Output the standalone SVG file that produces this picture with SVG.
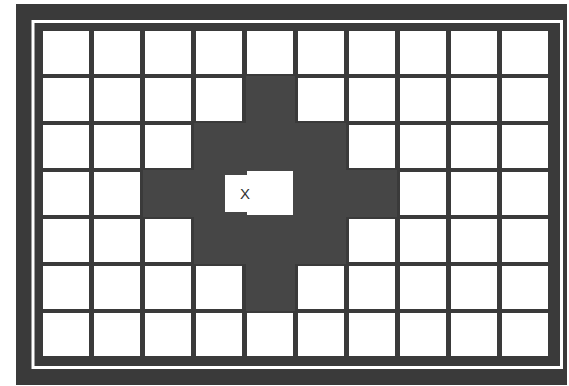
<svg xmlns="http://www.w3.org/2000/svg" width="569" height="386" viewBox="0 0 569 386">
<style>
.c{fill:#ffffff}
.frame{fill:#3a3a3a}
.line{fill:none;stroke:#ffffff;stroke-width:3}
.zone{fill:#464646}
.lbl{font-family:"Liberation Sans",Arial,sans-serif;font-size:15px;fill:#333333}
</style>
<rect width="569" height="386" fill="#ffffff"/>
<g id="frame">
<rect class="frame" x="16" y="4" width="551" height="381"/>
<rect class="line" x="33" y="21.5" width="528.5" height="346"/>
</g>
<g id="cells">
<!-- row 0 -->
<rect class="c" x="43" y="31" width="46" height="43"/><rect class="c" x="94" y="31" width="46" height="43"/><rect class="c" x="145" y="31" width="46" height="43"/><rect class="c" x="196" y="31" width="46" height="43"/><rect class="c" x="247" y="31" width="46" height="43"/><rect class="c" x="298" y="31" width="46" height="43"/><rect class="c" x="349" y="31" width="46" height="43"/><rect class="c" x="400" y="31" width="46" height="43"/><rect class="c" x="451" y="31" width="46" height="43"/><rect class="c" x="502" y="31" width="46" height="43"/>
<!-- row 1 -->
<rect class="c" x="43" y="78" width="46" height="43"/><rect class="c" x="94" y="78" width="46" height="43"/><rect class="c" x="145" y="78" width="46" height="43"/><rect class="c" x="196" y="78" width="46" height="43"/><rect class="c" x="298" y="78" width="46" height="43"/><rect class="c" x="349" y="78" width="46" height="43"/><rect class="c" x="400" y="78" width="46" height="43"/><rect class="c" x="451" y="78" width="46" height="43"/><rect class="c" x="502" y="78" width="46" height="43"/>
<!-- row 2 -->
<rect class="c" x="43" y="125" width="46" height="43"/><rect class="c" x="94" y="125" width="46" height="43"/><rect class="c" x="145" y="125" width="46" height="43"/><rect class="c" x="349" y="125" width="46" height="43"/><rect class="c" x="400" y="125" width="46" height="43"/><rect class="c" x="451" y="125" width="46" height="43"/><rect class="c" x="502" y="125" width="46" height="43"/>
<!-- row 3 -->
<rect class="c" x="43" y="172" width="46" height="43"/><rect class="c" x="94" y="172" width="46" height="43"/><rect class="c" x="400" y="172" width="46" height="43"/><rect class="c" x="451" y="172" width="46" height="43"/><rect class="c" x="502" y="172" width="46" height="43"/>
<!-- row 4 -->
<rect class="c" x="43" y="219" width="46" height="43"/><rect class="c" x="94" y="219" width="46" height="43"/><rect class="c" x="145" y="219" width="46" height="43"/><rect class="c" x="349" y="219" width="46" height="43"/><rect class="c" x="400" y="219" width="46" height="43"/><rect class="c" x="451" y="219" width="46" height="43"/><rect class="c" x="502" y="219" width="46" height="43"/>
<!-- row 5 -->
<rect class="c" x="43" y="266" width="46" height="43"/><rect class="c" x="94" y="266" width="46" height="43"/><rect class="c" x="145" y="266" width="46" height="43"/><rect class="c" x="196" y="266" width="46" height="43"/><rect class="c" x="298" y="266" width="46" height="43"/><rect class="c" x="349" y="266" width="46" height="43"/><rect class="c" x="400" y="266" width="46" height="43"/><rect class="c" x="451" y="266" width="46" height="43"/><rect class="c" x="502" y="266" width="46" height="43"/>
<!-- row 6 -->
<rect class="c" x="43" y="313" width="46" height="43"/><rect class="c" x="94" y="313" width="46" height="43"/><rect class="c" x="145" y="313" width="46" height="43"/><rect class="c" x="196" y="313" width="46" height="43"/><rect class="c" x="247" y="313" width="46" height="43"/><rect class="c" x="298" y="313" width="46" height="43"/><rect class="c" x="349" y="313" width="46" height="43"/><rect class="c" x="400" y="313" width="46" height="43"/><rect class="c" x="451" y="313" width="46" height="43"/><rect class="c" x="502" y="313" width="46" height="43"/>
</g>
<g id="zone">
<polygon class="zone" points="246,76 295,76 295,123 346,123 346,170 397,170 397,217 346,217 346,264 295,264 295,311 246,311 246,264 194,264 194,217 143,217 143,170 194,170 194,123 246,123"/>
</g>
<g id="x-cell">
<polygon class="c" points="225,175 247,175 247,171 293,171 293,215 247,215 247,212 225,212"/>
<text class="lbl" x="245" y="199" text-anchor="middle">X</text>
</g>
</svg>
